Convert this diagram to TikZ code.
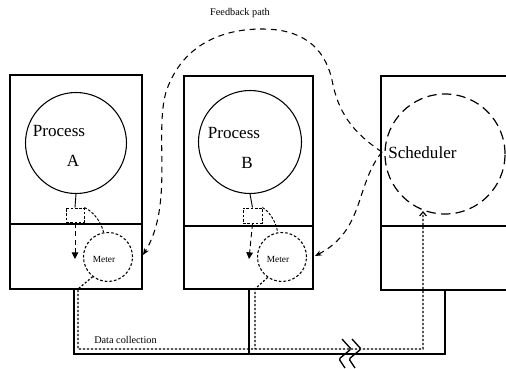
\documentclass[tikz,border=0pt]{standalone}
\usepackage{fontspec}
\setmainfont{Liberation Serif}
\usetikzlibrary{arrows.meta,calc}

\tikzset{
  unit/.style={draw, line width=1.1pt},
  proc/.style={draw, circle, line width=0.8pt},
  sched/.style={draw, circle, line width=0.9pt, dash pattern=on 7pt off 4pt},
  meter/.style={draw, circle, line width=0.8pt, dash pattern=on 2pt off 1.5pt},
  probe/.style={draw, line width=0.7pt, dash pattern=on 2pt off 1.2pt},
  feedback/.style={line width=0.8pt, dash pattern=on 4.5pt off 3.5pt, -{Stealth[length=5pt,width=4pt]}},
  datapath/.style={line width=0.9pt, dash pattern=on 1.6pt off 1.4pt},
  wire/.style={line width=1.1pt},
  lbl/.style={inner sep=0pt, font=\fontsize{12.8}{14}\selectfont},
  small/.style={inner sep=0pt, font=\fontsize{7}{8}\selectfont},
  note/.style={inner sep=0pt, font=\fontsize{7.7}{9}\selectfont},
}

\begin{document}
\begin{tikzpicture}[x=0.75pt, y=-0.75pt]
  \useasboundingbox (0,0) rectangle (506,368);
  \clip (0,0) rectangle (506,368);

  % three units: process A, process B, scheduler
  \draw[unit] (10,75) rectangle (142,289);
  \draw[unit] (10,224) -- (142,224);
  \draw[unit] (184,76) rectangle (313,289);
  \draw[unit] (184,226) -- (313,226);
  \draw[unit] (381,76) rectangle (530,290);
  \draw[unit] (381,226) -- (530,226);

  % process circles and scheduler
  \node[proc, minimum size=101pt*0.75] (pA) at (76,143) {};
  \node[proc, minimum size=103pt*0.75] (pB) at (250,142) {};
  \node[sched, minimum size=120pt*0.75] (sc) at (445,154) {};
  \node[lbl] at (59,131) {Process};
  \node[lbl] at (73,161) {A};
  \node[lbl] at (234,133) {Process};
  \node[lbl] at (247,163) {B};
  \node[lbl, anchor=west] at (388,153) {Scheduler};

  % probes and meters
  \node[probe, minimum width=18pt*0.75, minimum height=14pt*0.75, inner sep=0pt] (prA) at (75,215) {};
  \node[probe, minimum width=19pt*0.75, minimum height=15pt*0.75, inner sep=0pt] (prB) at (252.5,215.5) {};
  \node[meter, minimum size=49pt*0.75] (mA) at (108,257) {};
  \node[meter, minimum size=49pt*0.75] (mB) at (282,257) {};
  \node[small] at (104,259) {Meter};
  \node[small] at (278,259) {Meter};

  \coordinate (tA) at (75,259);
  \coordinate (tB) at (249,259);
  \draw[line width=0.7pt] (pA.south) -- (prA.north);
  \draw[line width=0.7pt] (pB.south) -- (prB.north);
  \draw[line width=0.7pt, dash pattern=on 4pt off 2.5pt, -{Triangle[length=5pt,width=5pt]}] (prA.south) -- (tA);
  \draw[line width=0.7pt, dash pattern=on 4pt off 2.5pt, -{Triangle[length=5pt,width=5pt]}] (prB.south) -- (tB);
  \draw[probe] (prA.north east) .. controls (94,212) and (101,222) .. (mA.100);
  \draw[probe] (prB.north east) .. controls (270,212) and (276,222) .. (mB.100);

  % feedback paths from the scheduler
  \coordinate (X) at (382,152);
  \coordinate (fA) at (143,255);
  \coordinate (fB) at (315,256);
  \draw[feedback] (X) .. controls (352,132) and (338,112) .. (332,80)
      .. controls (324,45) and (300,29) .. (262,29)
      .. controls (215,29) and (180,50) .. (166,92)
      .. controls (154,135) and (174,205) .. (fA);
  \draw[feedback] (X) .. controls (355,185) and (365,230) .. (fB);
  \node[note] at (240,13) {Feedback path};

  % wiring between units
  \coordinate (wA) at (74,289);
  \coordinate (wB) at (249,289);
  \coordinate (wC) at (445,290);
  \draw[wire] (wA) -- (74,354) -- (445,354) -- (wC);
  \draw[wire] (wB) -- (249,354);

  % data collection path
  \coordinate (dS) at (423,211);
  \draw[datapath, -{Straight Barb[length=3pt,width=5pt]}] (mA.232) -- (78,289) -- (78,349) -- (423,349) -- (dS);
  \draw[datapath] (mB.235) -- (255,289) -- (255,349);
  \node[note, anchor=west] at (94,340) {Data collection};

  % break marks
  \foreach \bx in {342,352} {
    \draw[line width=1pt, rounded corners=1pt]
      (\bx,339) -- (\bx+9,349) -- (\bx-3,359) -- (\bx+3,368);
  }
\end{tikzpicture}
\end{document}
